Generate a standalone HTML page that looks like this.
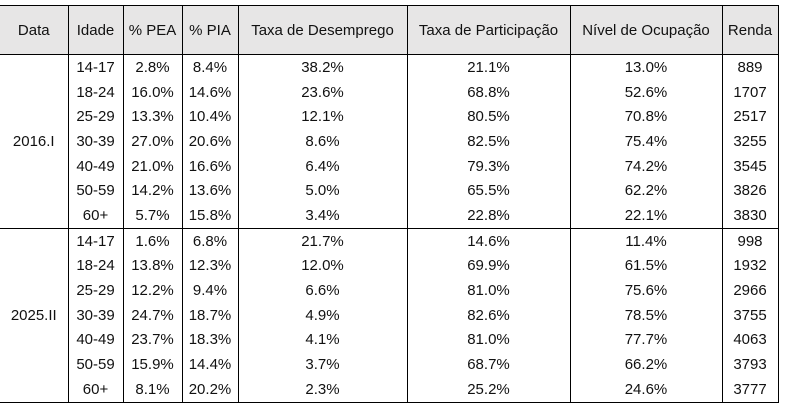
<!DOCTYPE html>
<html><head><meta charset="utf-8"><style>
body{margin:0;background:#fff;width:786px;height:408px;overflow:hidden}
table{position:absolute;left:0;top:5px;border-collapse:collapse;table-layout:fixed;font-family:"Liberation Sans",sans-serif;font-size:15px;color:#111}
td,th{padding:0;text-align:center;font-weight:normal;border-left:1px solid #000;white-space:nowrap}
.n{border-left:none}
th{background:#e7e6e6;height:48px;border-top:1px solid #000;border-bottom:1px solid #000}
tr.d td{height:24.7px}
tr.b td{border-top:1px solid #000}
tr.last td{border-bottom:1px solid #000}
td.r,th.r{border-right:1px solid #000}
</style></head><body>
<table>
<colgroup><col style="width:68px"><col style="width:55px"><col style="width:59px"><col style="width:56px"><col style="width:169px"><col style="width:163px"><col style="width:152px"><col style="width:56px"></colgroup>
<tr><th class="n">Data</th><th>Idade</th><th>% PEA</th><th>% PIA</th><th>Taxa de Desemprego</th><th>Taxa de Participação</th><th>Nível de Ocupação</th><th class="r">Renda</th></tr>
<tr class="d"><td class="n" rowspan="7" style="border-bottom:1px solid #000">2016.I</td><td>14-17</td><td>2.8%</td><td>8.4%</td><td>38.2%</td><td>21.1%</td><td>13.0%</td><td class="r">889</td></tr>
<tr class="d"><td>18-24</td><td>16.0%</td><td>14.6%</td><td>23.6%</td><td>68.8%</td><td>52.6%</td><td class="r">1707</td></tr>
<tr class="d"><td>25-29</td><td>13.3%</td><td>10.4%</td><td>12.1%</td><td>80.5%</td><td>70.8%</td><td class="r">2517</td></tr>
<tr class="d"><td>30-39</td><td>27.0%</td><td>20.6%</td><td>8.6%</td><td>82.5%</td><td>75.4%</td><td class="r">3255</td></tr>
<tr class="d"><td>40-49</td><td>21.0%</td><td>16.6%</td><td>6.4%</td><td>79.3%</td><td>74.2%</td><td class="r">3545</td></tr>
<tr class="d"><td>50-59</td><td>14.2%</td><td>13.6%</td><td>5.0%</td><td>65.5%</td><td>62.2%</td><td class="r">3826</td></tr>
<tr class="d"><td>60+</td><td>5.7%</td><td>15.8%</td><td>3.4%</td><td>22.8%</td><td>22.1%</td><td class="r">3830</td></tr>
<tr class="d b"><td class="n" rowspan="7" style="border-bottom:1px solid #000">2025.II</td><td>14-17</td><td>1.6%</td><td>6.8%</td><td>21.7%</td><td>14.6%</td><td>11.4%</td><td class="r">998</td></tr>
<tr class="d"><td>18-24</td><td>13.8%</td><td>12.3%</td><td>12.0%</td><td>69.9%</td><td>61.5%</td><td class="r">1932</td></tr>
<tr class="d"><td>25-29</td><td>12.2%</td><td>9.4%</td><td>6.6%</td><td>81.0%</td><td>75.6%</td><td class="r">2966</td></tr>
<tr class="d"><td>30-39</td><td>24.7%</td><td>18.7%</td><td>4.9%</td><td>82.6%</td><td>78.5%</td><td class="r">3755</td></tr>
<tr class="d"><td>40-49</td><td>23.7%</td><td>18.3%</td><td>4.1%</td><td>81.0%</td><td>77.7%</td><td class="r">4063</td></tr>
<tr class="d"><td>50-59</td><td>15.9%</td><td>14.4%</td><td>3.7%</td><td>68.7%</td><td>66.2%</td><td class="r">3793</td></tr>
<tr class="d last"><td>60+</td><td>8.1%</td><td>20.2%</td><td>2.3%</td><td>25.2%</td><td>24.6%</td><td class="r">3777</td></tr>
</table>
</body></html>
